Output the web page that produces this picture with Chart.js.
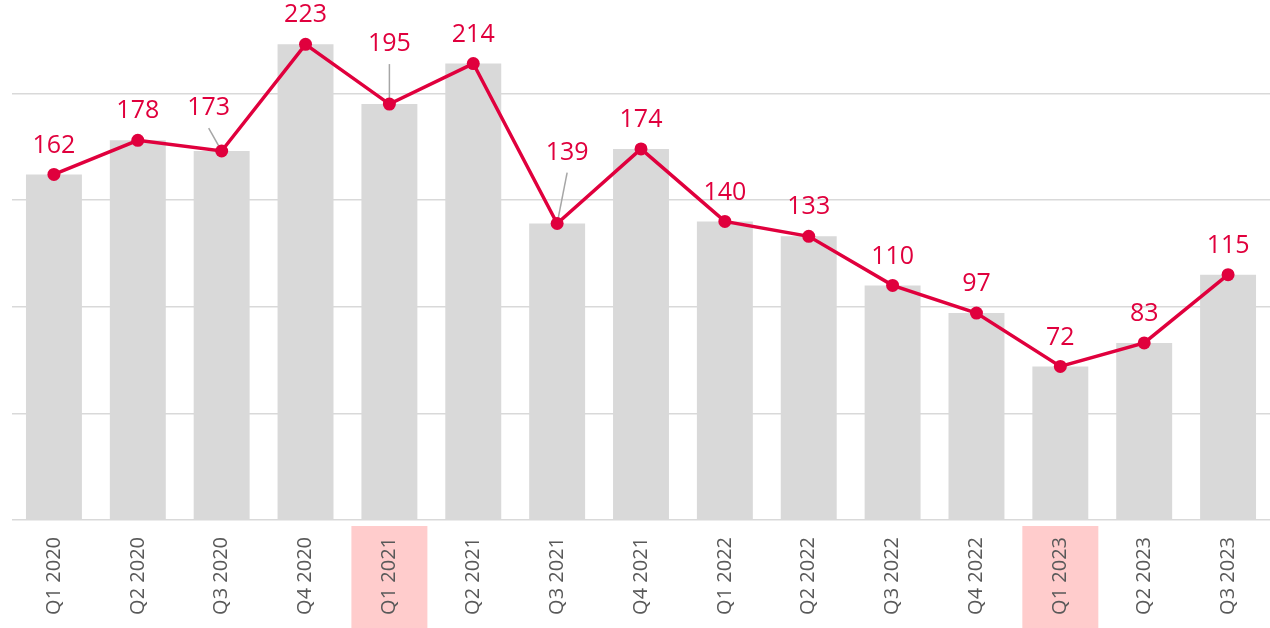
<!DOCTYPE html>
<html>
<head>
<meta charset="utf-8">
<script src="https://cdn.jsdelivr.net/npm/chart.js@4/dist/chart.umd.min.js"></script>
<style>
  html, body { margin: 0; padding: 0; background: #ffffff; }
  #wrap { width: 1270px; height: 628px; }
</style>
</head>
<body>
<div id="wrap"><canvas id="c" width="1270" height="628"></canvas></div>
<script>
// ---- data ----
const categories = ['Q1 2020','Q2 2020','Q3 2020','Q4 2020','Q1 2021','Q2 2021','Q3 2021','Q4 2021','Q1 2022','Q2 2022','Q3 2022','Q4 2022','Q1 2023','Q2 2023','Q3 2023'];
const barValues  = [162,178,173,223,195,214,139,174,140,133,110,97,72,83,115];
const lineValues = [162,178,173,223,195,214,139,174,140,133,110,97,72,83,115];
const highlightedCategories = ['Q1 2021','Q1 2023'];
const gridTickValues = [0,50,100,150,200];

// ---- styling / label placement ----
const RED = '#E0003D';
const BAR_GREY = '#D9D9D9';
const GRID_GREY = '#D9D9D9';
const labelPlacement = {
  default: { dx: 0, dy: -29, leader: false },
  2: { dx: -13, dy: -43, leader: true },
  4: { dx: 0, dy: -60, leader: true },
  6: { dx: 10, dy: -71, leader: true }
};

const highlightPlugin = {
  id: 'highlightBoxes',
  beforeDraw(chart) {
    const { ctx, chartArea, scales } = chart;
    const x = scales.x;
    ctx.save();
    ctx.fillStyle = '#FFCCCC';
    highlightedCategories.forEach(cat => {
      const i = categories.indexOf(cat);
      if (i < 0) return;
      const cx = x.getPixelForValue(i);
      const w = 76;
      ctx.fillRect(cx - w / 2, chartArea.bottom + 6, w, chart.height - chartArea.bottom - 6);
    });
    ctx.restore();
  }
};

const labelPlugin = {
  id: 'pointLabels',
  afterDatasetDraw(chart, args) {
    const { ctx } = chart;
    const meta = chart.getDatasetMeta(args.index);
    if (meta.type === 'bar') {
      const lineMeta = chart.getDatasetMeta(0);
      ctx.save();
      ctx.strokeStyle = '#A6A6A6';
      ctx.lineWidth = 1.5;
      lineMeta.data.forEach((pt, i) => {
        const p = labelPlacement[i];
        if (!p || !p.leader) return;
        const lx = pt.x + p.dx, ly = pt.y + p.dy + 20;
        ctx.beginPath();
        ctx.moveTo(lx, ly);
        ctx.lineTo(pt.x, pt.y);
        ctx.stroke();
      });
      ctx.restore();
    }
  },
  afterDatasetsDraw(chart) {
    const { ctx } = chart;
    const lineMeta = chart.getDatasetMeta(0);
    ctx.save();
    ctx.fillStyle = RED;
    ctx.font = '25px "Open Sans", sans-serif';
    ctx.textAlign = 'center';
    ctx.textBaseline = 'middle';
    lineMeta.data.forEach((pt, i) => {
      const p = labelPlacement[i] || labelPlacement.default;
      ctx.fillText(String(lineValues[i]), pt.x + p.dx, pt.y + p.dy);
    });
    ctx.restore();
  }
};

new Chart(document.getElementById('c'), {
  data: {
    labels: categories,
    datasets: [
      {
        type: 'line',
        data: lineValues,
        borderColor: RED,
        backgroundColor: RED,
        borderWidth: 3.5,
        pointRadius: 6.5,
        pointHoverRadius: 6.5,
        pointBackgroundColor: RED,
        pointBorderColor: RED,
        pointBorderWidth: 0,
        tension: 0,
        clip: false,
        order: 0
      },
      {
        type: 'bar',
        data: barValues,
        backgroundColor: BAR_GREY,
        borderWidth: 0,
        barPercentage: 0.667,
        categoryPercentage: 1.0,
        order: 1
      }
    ]
  },
  options: {
    responsive: false,
    animation: false,
    devicePixelRatio: 1,
    layout: { autoPadding: false, padding: { left: 12, right: 0, top: 0, bottom: 0 } },
    plugins: {
      legend: { display: false },
      tooltip: { enabled: false }
    },
    scales: {
      x: {
        offset: true,
        grid: { display: false, drawTicks: false },
        border: { display: false },
        ticks: {
          minRotation: 90,
          maxRotation: 90,
          autoSkip: false,
          padding: 17,
          color: '#595959',
          font: { family: '"Open Sans", sans-serif', size: 20 }
        },
        afterFit(scale) { scale.height = 108; scale.paddingLeft = 0; scale.paddingRight = 0; }
      },
      y: {
        min: 0,
        max: 243.8,
        afterBuildTicks(scale) {
          scale.ticks = gridTickValues.map(v => ({ value: v }));
        },
        grid: { color: GRID_GREY, lineWidth: 1.5, drawTicks: false },
        border: { display: false },
        ticks: { display: false }
      }
    }
  },
  plugins: [highlightPlugin, labelPlugin]
});
</script>
</body>
</html>
